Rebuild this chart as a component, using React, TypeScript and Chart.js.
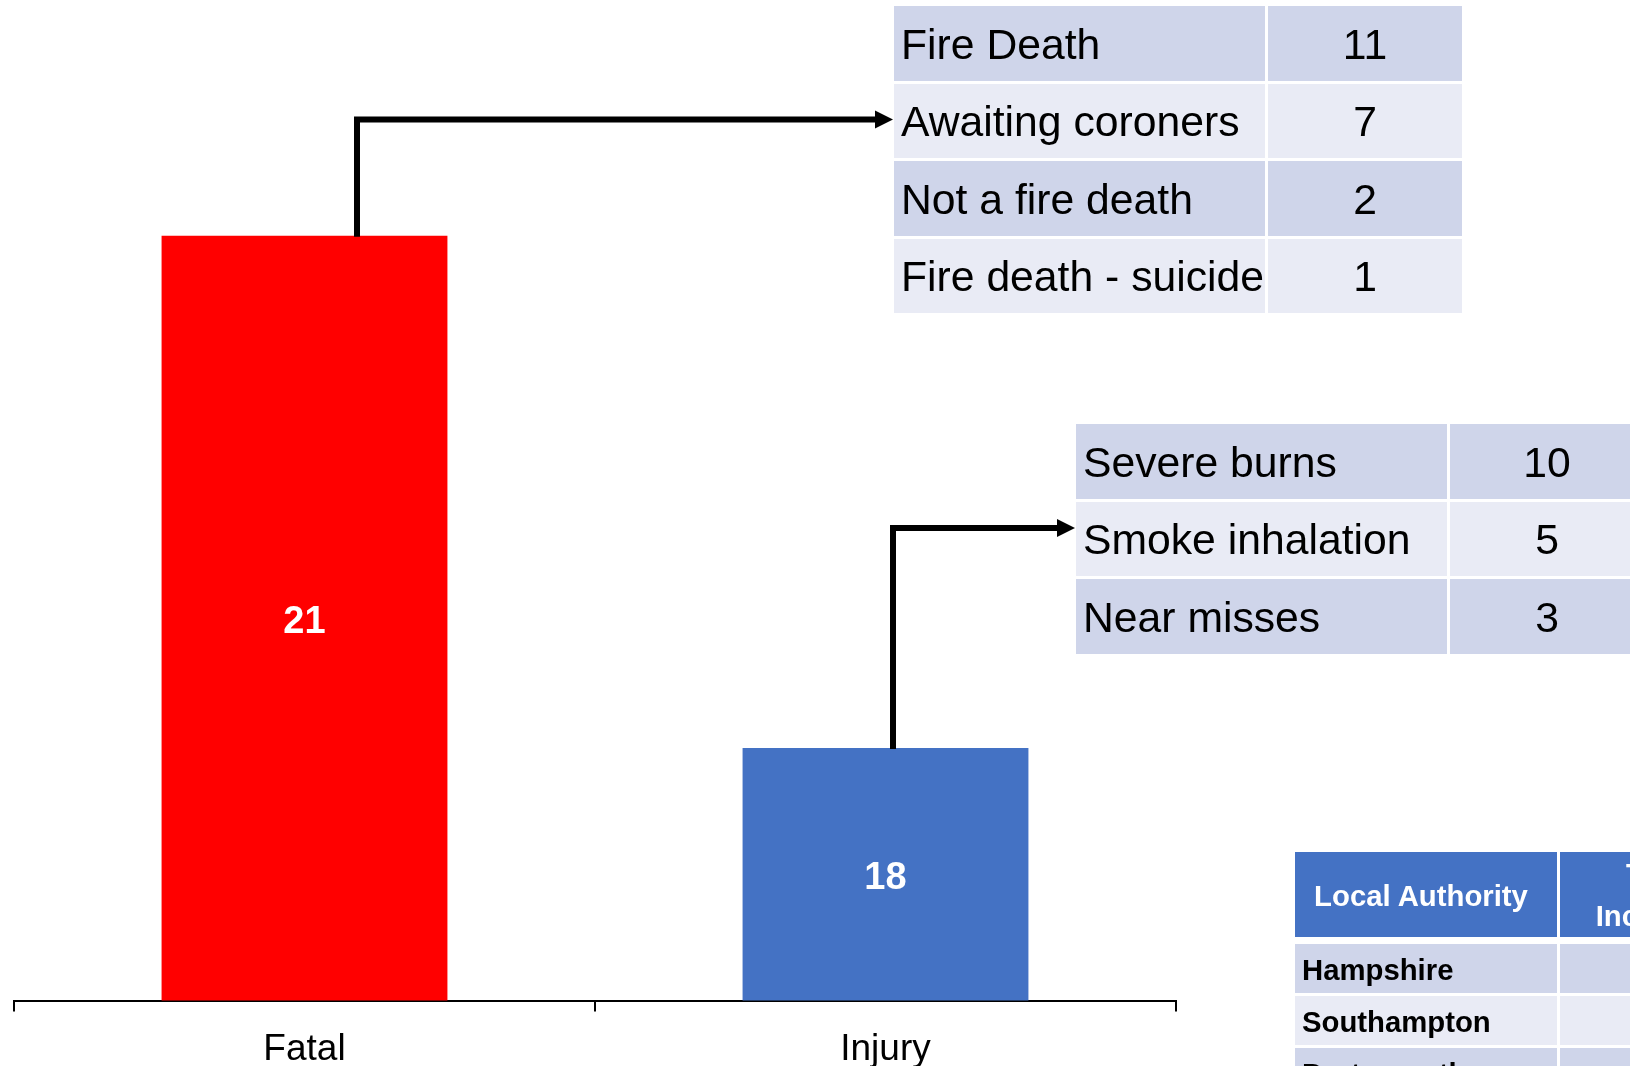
import React, { useEffect, useRef } from "react";
import { Chart, registerables } from "chart.js";

Chart.register(...registerables);

// ---- Data ----
const categories = ["Fatal", "Injury"];
const casualtyCounts = [21, 18];
const barColors = ["#FF0000", "#4472C4"];

const fatalBreakdownLabels = ["Fire Death", "Awaiting coroners", "Not a fire death", "Fire death - suicide"];
const fatalBreakdownValues = [11, 7, 2, 1];

const injuryBreakdownLabels = ["Severe burns", "Smoke inhalation", "Near misses"];
const injuryBreakdownValues = [10, 5, 3];

const authorityHeaders = ["Local Authority", "Total\nIncidents"];
const authorityNames = ["Hampshire", "Southampton", "Portsmouth"];

// ---- Styling / layout ----
const FONT = "'Liberation Sans', Arial, Helvetica, sans-serif";
const DARK_ROW = "#CFD5EA";
const LIGHT_ROW = "#E9EBF5";
const HEADER_BG = "#4472C4";

const Y_MIN = 16.52;
const Y_MAX = 22.38;

// connector annotations (elbow arrows from bar tops to the breakdown tables)
const connectors = [
  { barIndex: 0, x: 357, y: 119.5, tipX: 893 },
  { barIndex: 1, x: 893, y: 528, tipX: 1075 },
];

const valueLabelPlugin = {
  id: "valueLabels",
  afterDatasetsDraw(chart: any) {
    const ctx = chart.ctx;
    const meta = chart.getDatasetMeta(0);
    const bottom = chart.chartArea.bottom;
    ctx.save();
    ctx.fillStyle = "#FFFFFF";
    ctx.font = `bold 38px ${FONT}`;
    ctx.textAlign = "center";
    ctx.textBaseline = "middle";
    meta.data.forEach((bar: any, i: number) => {
      const { x, y, base } = bar.getProps(["x", "y", "base"], true);
      const b = Math.min(base, bottom);
      ctx.fillText(String(chart.data.datasets[0].data[i]), x, (y + b) / 2 + 4);
    });
    ctx.restore();
  },
};

const connectorPlugin = {
  id: "connectors",
  afterDraw(chart: any) {
    const ctx = chart.ctx;
    const meta = chart.getDatasetMeta(0);
    const headLen = 18;
    const headHalf = 9;
    ctx.save();
    ctx.strokeStyle = "#000";
    ctx.fillStyle = "#000";
    ctx.lineWidth = 6;
    ctx.lineJoin = "miter";
    connectors.forEach((c) => {
      const bar = meta.data[c.barIndex];
      const startY = bar.getProps(["y"], true).y + 1;
      ctx.beginPath();
      ctx.moveTo(c.x, startY);
      ctx.lineTo(c.x, c.y);
      ctx.lineTo(c.tipX - headLen + 2, c.y);
      ctx.stroke();
      ctx.beginPath();
      ctx.moveTo(c.tipX, c.y);
      ctx.lineTo(c.tipX - headLen, c.y - headHalf);
      ctx.lineTo(c.tipX - headLen, c.y + headHalf);
      ctx.closePath();
      ctx.fill();
    });
    ctx.restore();
  },
};

function BreakdownTable({
  left,
  top,
  labels,
  values,
}: {
  left: number;
  top: number;
  labels: string[];
  values: number[];
}) {
  return (
    <div
      style={{
        position: "absolute",
        left,
        top,
        display: "grid",
        gridTemplateColumns: "371px 194px",
        gridAutoRows: "74.5px",
        gap: "3px",
        fontFamily: FONT,
        fontSize: 42.7,
        color: "#000",
      }}
    >
      {labels.map((lab, i) => {
        const bg = i % 2 === 0 ? DARK_ROW : LIGHT_ROW;
        return (
          <React.Fragment key={lab}>
            <div
              style={{
                background: bg,
                display: "flex",
                alignItems: "center",
                paddingLeft: 7,
                paddingTop: 2,
                whiteSpace: "nowrap",
              }}
            >
              {lab}
            </div>
            <div
              style={{
                background: bg,
                display: "flex",
                alignItems: "center",
                justifyContent: "center",
                paddingTop: 2,
              }}
            >
              {values[i]}
            </div>
          </React.Fragment>
        );
      })}
    </div>
  );
}

function AuthorityTable() {
  return (
    <>
      <div
        style={{
          position: "absolute",
          left: 1295,
          top: 852,
          display: "grid",
          gridTemplateColumns: "262px 200px",
          gridAutoRows: "85px",
          gap: "3px",
          fontFamily: FONT,
          fontSize: 29.3,
          fontWeight: "bold",
          color: "#FFFFFF",
        }}
      >
        {authorityHeaders.map((h) => (
          <div
            key={h}
            style={{
              background: HEADER_BG,
              display: "flex",
              alignItems: "center",
              justifyContent: "center",
              textAlign: "center",
              whiteSpace: "pre-line",
              lineHeight: "42px",
              paddingTop: h.includes("\n") ? 0 : 2,
              paddingRight: h.includes("\n") ? 0 : 10,
            }}
          >
            {h}
          </div>
        ))}
      </div>
      <div
        style={{
          position: "absolute",
          left: 1295,
          top: 944,
          display: "grid",
          gridTemplateColumns: "262px 200px",
          gridAutoRows: "49px",
          gap: "3px",
          fontFamily: FONT,
          fontSize: 29.3,
          fontWeight: "bold",
          color: "#000",
        }}
      >
        {authorityNames.map((n, i) => {
          const bg = i % 2 === 0 ? DARK_ROW : LIGHT_ROW;
          return (
            <React.Fragment key={n}>
              <div
                style={{
                  background: bg,
                  display: "flex",
                  alignItems: "center",
                  paddingLeft: 7,
                  paddingTop: 2,
                  whiteSpace: "nowrap",
                }}
              >
                {n}
              </div>
              <div style={{ background: bg }} />
            </React.Fragment>
          );
        })}
      </div>
    </>
  );
}

const CANVAS_H = 1088;

export default function App() {
  const canvasRef = useRef<HTMLCanvasElement | null>(null);

  useEffect(() => {
    if (!canvasRef.current) return;
    const chart = new Chart(canvasRef.current, {
      type: "bar",
      data: {
        labels: categories,
        datasets: [
          {
            data: casualtyCounts,
            backgroundColor: barColors,
            borderWidth: 0,
            barPercentage: 0.492,
            categoryPercentage: 1,
          },
        ],
      },
      options: {
        responsive: false,
        animation: false,
        devicePixelRatio: 1,
        layout: { padding: { left: 14, right: 454, top: 0, bottom: 0 } },
        plugins: {
          legend: { display: false },
          tooltip: { enabled: false },
        },
        scales: {
          x: {
            grid: {
              display: true,
              drawOnChartArea: false,
              drawTicks: true,
              tickLength: 11,
              color: "#000",
              lineWidth: 2,
              offset: true,
            },
            border: { display: true, color: "#000", width: 2 },
            ticks: {
              color: "#000",
              padding: 16,
              font: { size: 37, family: FONT, lineHeight: 1.2 },
            },
          },
          y: {
            display: false,
            min: Y_MIN,
            max: Y_MAX,
          },
        },
      },
      plugins: [valueLabelPlugin, connectorPlugin],
    } as any);
    return () => chart.destroy();
  }, []);

  return (
    <div
      style={{
        position: "fixed",
        left: 0,
        top: 0,
        width: 1630,
        height: 1066,
        overflow: "hidden",
        background: "#FFFFFF",
      }}
    >
      <canvas
        ref={canvasRef}
        width={1630}
        height={CANVAS_H}
        style={{ position: "absolute", left: 0, top: 0, width: 1630, height: CANVAS_H }}
      />
      <BreakdownTable left={894} top={6} labels={fatalBreakdownLabels} values={fatalBreakdownValues} />
      <BreakdownTable left={1076} top={424} labels={injuryBreakdownLabels} values={injuryBreakdownValues} />
      <AuthorityTable />
    </div>
  );
}
